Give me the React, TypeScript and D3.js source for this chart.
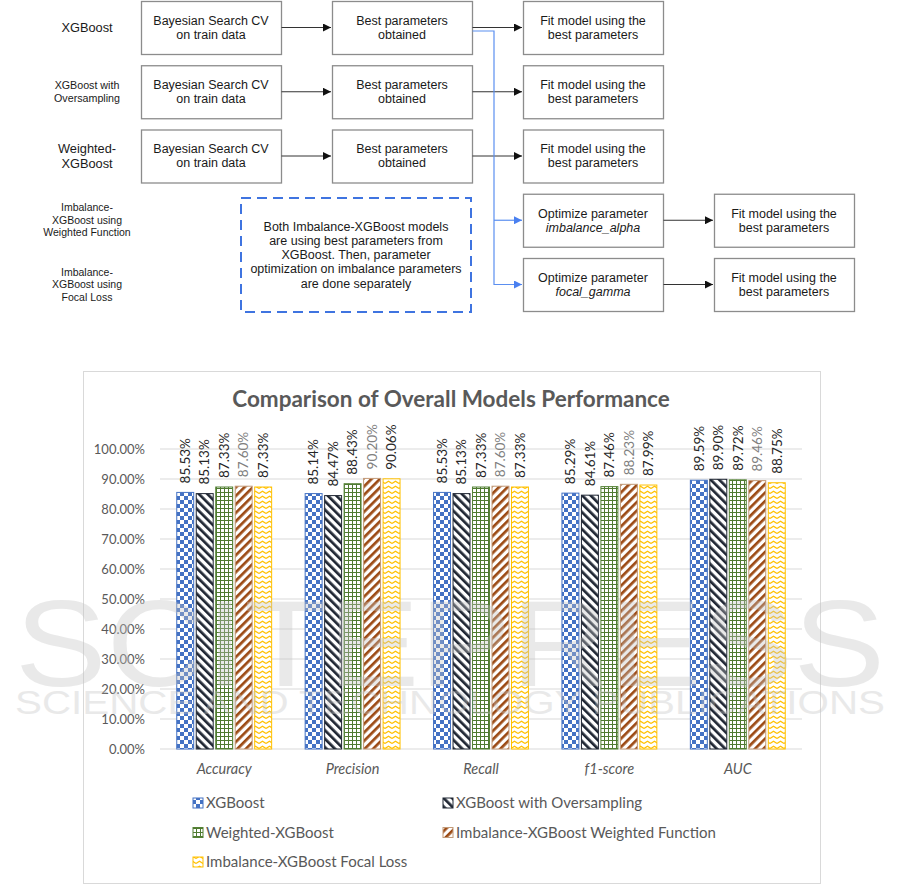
import * as d3 from "d3";

// ---- bar chart data (percent) ----
const CATEGORIES = ["Accuracy", "Precision", "Recall", "f1-score", "AUC"];
const SERIES = [
  "XGBoost",
  "XGBoost with Oversampling",
  "Weighted-XGBoost",
  "Imbalance-XGBoost Weighted Function",
  "Imbalance-XGBoost Focal Loss",
];
const XGB = [85.53, 85.14, 85.53, 85.29, 89.59];
const XGB_OVER = [85.13, 84.47, 85.13, 84.61, 89.9];
const WEIGHTED = [87.33, 88.43, 87.33, 87.46, 89.72];
const IMB_WF = [87.6, 90.2, 87.6, 88.23, 89.46];
const IMB_FL = [87.33, 90.06, 87.33, 87.99, 88.75];
const VALUES = [XGB, XGB_OVER, WEIGHTED, IMB_WF, IMB_FL];

// ---- flowchart text ----
const ROW_LABELS = [
  ["XGBoost"],
  ["XGBoost with", "Oversampling"],
  ["Weighted-", "XGBoost"],
  ["Imbalance-", "XGBoost using", "Weighted Function"],
  ["Imbalance-", "XGBoost using", "Focal Loss"],
];
const SEARCH_TEXT = ["Bayesian Search CV", "on train data"];
const BEST_TEXT = ["Best parameters", "obtained"];
const FIT_TEXT = ["Fit model using the", "best parameters"];
const OPT_PARAMS = ["imbalance_alpha", "focal_gamma"];
const NOTE_TEXT = [
  "Both Imbalance-XGBoost models",
  "are using best parameters from",
  "XGBoost. Then, parameter",
  "optimization on imbalance parameters",
  "are done separately",
];

const ROW_LABEL_SIZE = [12.8, 10.7, 12.8, 10.5, 10.5];
const SERIES_STYLE = [
  { fill: "url(#pat-check)", stroke: "#4472C4", label: "#262626" },
  { fill: "url(#pat-dark)", stroke: "#1f2633", label: "#262626" },
  { fill: "url(#pat-grid)", stroke: "#548235", label: "#262626" },
  { fill: "url(#pat-brown)", stroke: "#c29a78", label: "#808080" },
  { fill: "url(#pat-zig)", stroke: "#FFC000", label: "#262626" },
];

const CHART_FONT = "Lato, 'Open Sans', sans-serif";
const FLOW_FONT = "'Liberation Sans', Arial, sans-serif";
const GREY = "#595959";

// flowchart layout
const BOX_W = 140;
const BOX_H = 53;
const rowTop = d3.scaleLinear().domain([0, 4]).range([1, 258]);
const colLeft = d3.scaleLinear().domain([0, 3]).range([141, 714]);
const rowMid = (r: number) => rowTop(r) + BOX_H / 2;

function Box({ r, c, lines, italicSecond }: { r: number; c: number; lines: string[]; italicSecond?: boolean }) {
  const x = colLeft(c);
  const y = rowTop(r);
  return (
    <g>
      <rect x={x + 0.5} y={y + 0.5} width={BOX_W} height={BOX_H} fill="#fff" stroke="#8c8c8c" strokeWidth={1.3} />
      {lines.map((t, i) => (
        <text
          key={i}
          x={x + BOX_W / 2}
          y={y + BOX_H / 2 + (i - 0.5) * 14}
          dy="0.35em"
          textAnchor="middle"
          fontSize={12.5}
          fontStyle={italicSecond && i === 1 ? "italic" : "normal"}
          fill="#1a1a1a"
        >
          {t}
        </text>
      ))}
    </g>
  );
}

function Flowchart() {
  const arrows: [number, number, number][] = [];
  [0, 1, 2].forEach((r) => {
    arrows.push([r, 0, 1]);
    arrows.push([r, 1, 2]);
  });
  [3, 4].forEach((r) => arrows.push([r, 2, 3]));
  const blueX = colLeft(2) - 29;
  const blueTop = rowTop(0) + 30;
  return (
    <g fontFamily={FLOW_FONT}>
      {ROW_LABELS.map((lines, r) => (
        <g key={r}>
          {lines.map((t, i) => (
            <text
              key={i}
              x={87}
              y={rowMid(r) + (i - (lines.length - 1) / 2) * (ROW_LABEL_SIZE[r] + 2)}
              dy="0.35em"
              textAnchor="middle"
              fontSize={ROW_LABEL_SIZE[r]}
              fill="#1a1a1a"
            >
              {t}
            </text>
          ))}
        </g>
      ))}
      {[0, 1, 2].map((r) => (
        <g key={r}>
          <Box r={r} c={0} lines={SEARCH_TEXT} />
          <Box r={r} c={1} lines={BEST_TEXT} />
          <Box r={r} c={2} lines={FIT_TEXT} />
        </g>
      ))}
      {OPT_PARAMS.map((p, i) => (
        <g key={p}>
          <Box r={3 + i} c={2} lines={["Optimize parameter", p]} italicSecond />
          <Box r={3 + i} c={3} lines={FIT_TEXT} />
        </g>
      ))}
      {arrows.map(([r, a, b], i) => (
        <line
          key={i}
          x1={colLeft(a) + BOX_W + 0.5}
          x2={colLeft(b) - 1}
          y1={rowMid(r)}
          y2={rowMid(r)}
          stroke="#333"
          strokeWidth={1}
          markerEnd="url(#arrow-black)"
        />
      ))}
      <path
        d={`M${colLeft(1) + BOX_W + 0.5},${blueTop}H${blueX}V${rowMid(4)}H${colLeft(2) - 1}`}
        fill="none"
        stroke="#5b8ff0"
        strokeWidth={1.2}
        markerEnd="url(#arrow-blue)"
      />
      <line
        x1={blueX}
        x2={colLeft(2) - 1}
        y1={rowMid(3)}
        y2={rowMid(3)}
        stroke="#5b8ff0"
        strokeWidth={1.2}
        markerEnd="url(#arrow-blue)"
      />
      <rect
        x={241}
        y={198}
        width={230}
        height={114}
        fill="none"
        stroke="#3f74e0"
        strokeWidth={2}
        strokeDasharray="10,6"
      />
      {NOTE_TEXT.map((t, i) => (
        <text
          key={i}
          x={356}
          y={255 + (i - 2) * 14.1}
          dy="0.35em"
          textAnchor="middle"
          fontSize={12.5}
          fill="#1a1a1a"
        >
          {t}
        </text>
      ))}
    </g>
  );
}

// bar chart layout
const PLOT = { left: 160, right: 802, top: 449, bottom: 749 };
const x0 = d3.scaleBand<string>().domain(CATEGORIES).range([PLOT.left, PLOT.right]).padding(0);
const x1 = d3
  .scaleBand<string>()
  .domain(SERIES)
  .range([0, x0.bandwidth()])
  .paddingInner(0.13)
  .paddingOuter(0.86);
const y = d3.scaleLinear().domain([0, 100]).range([PLOT.bottom, PLOT.top]);
const yTicks = y.ticks(10);

function BarChart() {
  return (
    <g fontFamily={CHART_FONT}>
      <rect x={83.5} y={371.5} width={737} height={512} fill="#fff" stroke="#d9d9d9" strokeWidth={1} />
      <text x={451} y={399} dy="0.35em" textAnchor="middle" fontSize={22.5} fontWeight="bold" fill={GREY}>
        Comparison of Overall Models Performance
      </text>
      {yTicks.map((t) => (
        <g key={t}>
          <line x1={PLOT.left} x2={PLOT.right} y1={y(t)} y2={y(t)} stroke="#d9d9d9" strokeWidth={1} />
          <text x={145} y={y(t)} dy="0.35em" textAnchor="end" fontSize={13} fill={GREY}>
            {d3.format(".2f")(t)}%
          </text>
        </g>
      ))}
      {CATEGORIES.map((c, ci) => (
        <g key={c}>
          {SERIES.map((s, si) => {
            const v = VALUES[si][ci];
            const bx = (x0(c) ?? 0) + (x1(s) ?? 0);
            const w = x1.bandwidth();
            return (
              <g key={s}>
                <rect
                  x={bx}
                  y={y(v)}
                  width={w}
                  height={PLOT.bottom - y(v)}
                  fill={SERIES_STYLE[si].fill}
                  stroke={SERIES_STYLE[si].stroke}
                  strokeWidth={1}
                />
                <text
                  transform={`translate(${bx + w / 2},${y(v) - 9}) rotate(-90)`}
                  dy="0.35em"
                  textAnchor="start"
                  fontSize={13.5}
                  fill={SERIES_STYLE[si].label}
                >
                  {d3.format(".2f")(v)}%
                </text>
              </g>
            );
          })}
          <text
            x={(x0(c) ?? 0) + x0.bandwidth() / 2}
            y={769}
            dy="0.35em"
            textAnchor="middle"
            fontSize={14.5}
            fontStyle="italic"
            fill={GREY}
          >
            {c}
          </text>
        </g>
      ))}
      {SERIES.map((s, si) => {
        const lx = si % 2 === 0 ? 193 : 443;
        const ly = 803 + Math.floor(si / 2) * 29.5;
        return (
          <g key={s}>
            <rect
              x={lx}
              y={ly - 5}
              width={10}
              height={10}
              fill={SERIES_STYLE[si].fill}
              stroke={SERIES_STYLE[si].stroke}
              strokeWidth={1}
            />
            <text x={lx + 13} y={ly} dy="0.35em" fontSize={15} fill={GREY}>
              {s}
            </text>
          </g>
        );
      })}
    </g>
  );
}

function Watermark() {
  return (
    <g fontFamily="'Liberation Sans', Arial, sans-serif" fill="#c4c4c4" opacity={0.36} pointerEvents="none">
      <text x={15} y={686} fontSize={123} textLength={870} lengthAdjust="spacingAndGlyphs">
        SCITEPRESS
      </text>
      <text x={15} y={714} fontSize={34} textLength={870} lengthAdjust="spacingAndGlyphs">
        SCIENCE AND TECHNOLOGY PUBLICATIONS
      </text>
    </g>
  );
}

export default function App() {
  return (
    <svg
      width={901}
      height={887}
      style={{ position: "absolute", left: 0, top: 0, background: "#fff" }}
    >
      <defs>
        <marker id="arrow-black" viewBox="0 0 10 10" refX={10} refY={5} markerWidth={8} markerHeight={8} markerUnits="userSpaceOnUse" orient="auto">
          <path d="M0,0L10,5L0,10z" fill="#111" />
        </marker>
        <marker id="arrow-blue" viewBox="0 0 10 10" refX={10} refY={5} markerWidth={8} markerHeight={8} markerUnits="userSpaceOnUse" orient="auto">
          <path d="M0,0L10,5L0,10z" fill="#4a80f0" />
        </marker>
        <pattern id="pat-check" width={8} height={8} patternUnits="userSpaceOnUse">
          <rect width={8} height={8} fill="#fff" />
          <rect width={4} height={4} fill="#4472C4" />
          <rect x={4} y={4} width={4} height={4} fill="#4472C4" />
        </pattern>
        <pattern id="pat-dark" width={6} height={6} patternUnits="userSpaceOnUse" patternTransform="rotate(-45)">
          <rect width={6} height={6} fill="#fff" />
          <rect width={2.7} height={6} fill="#1f2633" />
        </pattern>
        <pattern id="pat-grid" width={4} height={4} patternUnits="userSpaceOnUse">
          <rect width={4} height={4} fill="#fff" />
          <path d="M0,0.5H4M0.5,0V4" stroke="#4f7a30" strokeWidth={1} />
        </pattern>
        <pattern id="pat-brown" width={6} height={6} patternUnits="userSpaceOnUse" patternTransform="rotate(45)">
          <rect width={6} height={6} fill="#fff" />
          <rect width={2.7} height={6} fill="#9c4a14" />
        </pattern>
        <pattern id="pat-zig" width={7} height={5} patternUnits="userSpaceOnUse">
          <rect width={7} height={5} fill="#fff" />
          <path d="M0,3.6L3.5,1.2L7,3.6" fill="none" stroke="#FFC000" strokeWidth={1.2} />
        </pattern>
      </defs>
      <rect width={901} height={887} fill="#fff" />
      <Flowchart />
      <BarChart />
      <Watermark />
    </svg>
  );
}
